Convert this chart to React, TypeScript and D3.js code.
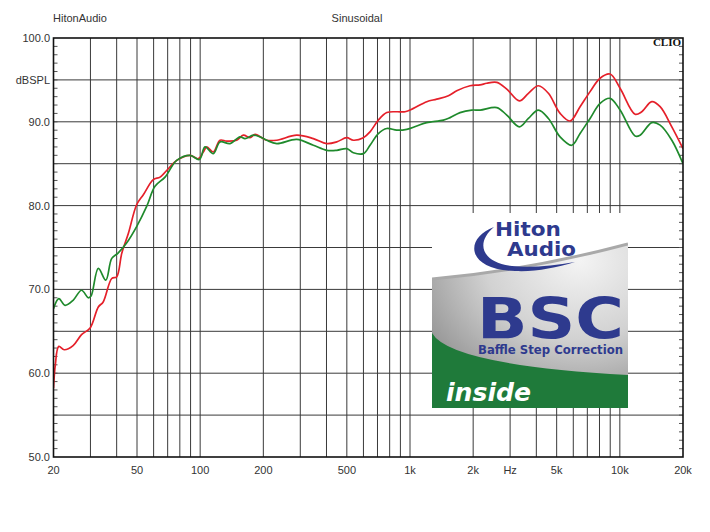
import React from "react";
import * as d3 from "d3";

// ---------- data ----------
const redFreq = [20, 20.4, 21.2, 22.5, 24.8, 27.2, 29.9, 32.7, 34.5, 37.9, 40.0, 42.3, 45.5, 49.8, 53.6, 59.8, 64.4, 70.5, 77.3, 89.5, 98.0, 103.5, 107.5, 115.5, 124.3, 133.8, 149.3, 160.6, 172.9, 182.7, 207.5, 231.7, 288.5, 346.2, 401, 447.7, 499.4, 537, 599.6, 645, 706.6, 775, 864.9, 947.5, 1038, 1202, 1341, 1524, 1670, 1933, 2158, 2321, 2592, 2892, 3322, 3667, 4092, 4567, 5192, 5794, 6465, 7214, 8051, 8985, 10027, 11823, 12725, 14200, 15560, 17690, 20000];
const redDb = [58.2, 61.0, 63.2, 62.8, 63.3, 64.6, 65.4, 67.9, 68.5, 71.3, 71.5, 74.3, 76.7, 80.1, 81.3, 83.1, 83.4, 84.4, 85.4, 86.0, 85.6, 86.4, 87.0, 86.4, 87.8, 87.7, 87.8, 88.4, 88.1, 88.5, 87.8, 87.8, 88.4, 88.0, 87.4, 87.6, 88.1, 87.8, 88.1, 88.8, 90.2, 91.1, 91.2, 91.2, 91.6, 92.4, 92.7, 93.1, 93.7, 94.3, 94.4, 94.6, 94.7, 93.9, 92.5, 93.4, 94.3, 93.4, 91.0, 90.1, 91.8, 93.6, 95.2, 95.7, 94.0, 90.9, 91.2, 92.4, 91.8, 89.4, 86.8];

const greenFreq = [20, 21.2, 22.7, 24.8, 27.2, 29.3, 30.2, 32.7, 35.5, 37.9, 40.5, 44.5, 49.8, 55.6, 60.9, 68.0, 77.3, 89.5, 99.1, 105.5, 115.5, 124.3, 138.8, 154.9, 163.6, 179.3, 192.8, 207.5, 231.7, 288.5, 346.2, 401, 447.7, 499.4, 537, 599.6, 645, 706.6, 775, 864.9, 965, 1077, 1202, 1442, 1552, 1732, 1969, 2158, 2592, 2892, 3322, 3667, 4092, 4567, 5192, 5903, 6465, 7214, 8051, 8985, 10027, 11823, 12490, 14200, 15560, 17690, 20000];
const greenDb = [67.7, 68.9, 68.1, 68.7, 69.9, 69.0, 69.2, 72.5, 71.1, 73.7, 74.3, 75.5, 77.5, 79.9, 82.3, 83.4, 85.4, 86.0, 85.5, 87.0, 86.2, 87.6, 87.4, 88.2, 88.0, 88.4, 88.2, 87.8, 87.4, 87.9, 87.2, 86.6, 86.6, 86.8, 86.3, 86.2, 87.2, 88.6, 89.2, 89.0, 89.1, 89.5, 89.9, 90.2, 90.5, 91.1, 91.4, 91.4, 91.7, 90.8, 89.4, 90.4, 91.4, 90.4, 88.2, 87.2, 88.6, 90.4, 92.2, 92.8, 91.4, 88.3, 88.4, 89.9, 89.6, 87.8, 85.0];

const yLabelValues = [100, 90, 80, 70, 60, 50];
const yGridValues = [95, 90, 85, 80, 75, 70, 65, 60, 55];
const yMinorValues = d3.range(51, 100);
const xLabelValues = [20, 50, 100, 200, 500, 1000, 2000, 3000, 5000, 10000, 20000];
const xLabelTexts = ["20", "50", "100", "200", "500", "1k", "2k", "Hz", "5k", "10k", "20k"];
const xGridValues = [30, 40, 50, 60, 70, 80, 90, 100, 200, 300, 400, 500, 600, 700, 800, 900, 1000, 2000, 3000, 4000, 5000, 6000, 7000, 8000, 9000, 10000];

// ---------- layout ----------
const L = 53.5, R = 683, T = 38, B = 457;
const x = d3.scaleLog().domain([20, 20000]).range([L, R]);
const y = d3.scaleLinear().domain([50, 100]).range([B, T]);

const FONT = "'Liberation Sans', Arial, sans-serif";
const BLUE = "#2e3a8e";

function Logo() {
  const lx = 432, ly = 213, lw = 196, lh = 195;
  return (
    <g>
      <defs>
        <radialGradient id="gg" cx="0.75" cy="0.1" r="0.95">
          <stop offset="0" stopColor="#f4f4f4" />
          <stop offset="0.5" stopColor="#d2d2d2" />
          <stop offset="1" stopColor="#8e8e8e" />
        </radialGradient>
        <clipPath id="logoClip">
          <rect x={lx} y={ly} width={lw} height={lh} />
        </clipPath>
      </defs>
      <g clipPath="url(#logoClip)">
        <rect x={lx} y={ly} width={lw} height={lh} fill="#ffffff" />
        <path d={`M${lx},279 Q530,270 ${lx + lw},244 L${lx + lw},${ly + lh} L${lx},${ly + lh} Z`} fill="url(#gg)" />
        <path d={`M${lx},279 Q530,270 ${lx + lw},244`} fill="none" stroke="#a9a9a9" strokeWidth={3} />
        <path d={`M${lx},333 Q450,365 ${lx + lw},375 L${lx + lw},${ly + lh} L${lx},${ly + lh} Z`} fill="#1f7a3a" />
        <path d="M494,227 C464,238 466,270 515,271 C535,272 555,268 575,262 C552,266 530,268 512,266 C480,262 476,242 494,227 Z" fill={BLUE} />
        <text x={495} y={236} fontFamily="'DejaVu Sans', sans-serif" fontWeight="bold" fontSize={20} fill={BLUE} textLength={66} lengthAdjust="spacingAndGlyphs">Hiton</text>
        <text x={507} y={256} fontFamily="'DejaVu Sans', sans-serif" fontWeight="bold" fontSize={20} fill={BLUE} textLength={69} lengthAdjust="spacingAndGlyphs">Audio</text>
        <text x={477} y={339} fontFamily="'DejaVu Sans', sans-serif" fontWeight="bold" fontSize={57} fill={BLUE} textLength={147} lengthAdjust="spacingAndGlyphs">BSC</text>
        <text x={478} y={354} fontFamily="'DejaVu Sans', sans-serif" fontWeight="bold" fontSize={11.5} fill={BLUE} textLength={145} lengthAdjust="spacingAndGlyphs">Baffle Step Correction</text>
        <text x={446} y={401} fontFamily="'DejaVu Sans', sans-serif" fontWeight="bold" fontStyle="italic" fontSize={24} fill="#ffffff" textLength={85} lengthAdjust="spacingAndGlyphs">inside</text>
      </g>
    </g>
  );
}

export default function App() {
  const line = d3
    .line<[number, number]>()
    .x((d) => x(d[0]))
    .y((d) => y(d[1]))
    .curve(d3.curveCatmullRom.alpha(0.5));
  const red = redFreq.map((f, i) => [f, redDb[i]] as [number, number]);
  const green = greenFreq.map((f, i) => [f, greenDb[i]] as [number, number]);

  return (
    <div style={{ position: "fixed", left: 0, top: 0 }}>
      <svg width={710} height={532} style={{ display: "block", background: "#fff" }}>
        <defs>
          <clipPath id="plotClip">
            <rect x={L} y={T} width={R - L} height={B - T} />
          </clipPath>
        </defs>
        <rect width={710} height={532} fill="#fff" />
        {/* grid */}
        {xGridValues.map((f) => (
          <line key={"xg" + f} x1={x(f)} x2={x(f)} y1={T} y2={B} stroke="#3a3a3a" strokeWidth={1} />
        ))}
        {yGridValues.map((v) => (
          <line key={"yg" + v} x1={L} x2={R} y1={y(v)} y2={y(v)} stroke="#3a3a3a" strokeWidth={1} />
        ))}
        {yMinorValues.map((v) => (
          <g key={"ym" + v}>
            <line x1={L} x2={L + 4} y1={y(v)} y2={y(v)} stroke="#555" strokeWidth={1} />
            <line x1={R - 4} x2={R} y1={y(v)} y2={y(v)} stroke="#555" strokeWidth={1} />
          </g>
        ))}
        {/* curves */}
        <g clipPath="url(#plotClip)">
          <path d={line(red) || ""} fill="none" stroke="#e5202a" strokeWidth={1.7} />
          <path d={line(green) || ""} fill="none" stroke="#1f8a2c" strokeWidth={1.7} />
        </g>
        <Logo />
        {/* frame */}
        <rect x={L} y={T} width={R - L} height={B - T} fill="none" stroke="#111" strokeWidth={1.6} />
        {/* labels */}
        <text x={53} y={22} fontFamily={FONT} fontSize={11} fill="#333">HitonAudio</text>
        <text x={357} y={22} fontFamily={FONT} fontSize={11} fill="#333" textAnchor="middle">Sinusoidal</text>
        <text x={681} y={46} fontFamily="'Liberation Serif', 'DejaVu Serif', serif" fontWeight="bold" fontSize={11} fill="#111" textAnchor="end">CLIO</text>
        <text x={50} y={y(95) + 4} fontFamily={FONT} fontSize={11} fill="#333" textAnchor="end">dBSPL</text>
        {yLabelValues.map((v) => (
          <text key={"yl" + v} x={50} y={y(v) + 4} fontFamily={FONT} fontSize={11} fill="#333" textAnchor="end">
            {v.toFixed(1)}
          </text>
        ))}
        {xLabelValues.map((f, i) => (
          <text key={"xl" + f} x={x(f)} y={474} fontFamily={FONT} fontSize={11} fill="#333" textAnchor="middle">
            {xLabelTexts[i]}
          </text>
        ))}
      </svg>
    </div>
  );
}
